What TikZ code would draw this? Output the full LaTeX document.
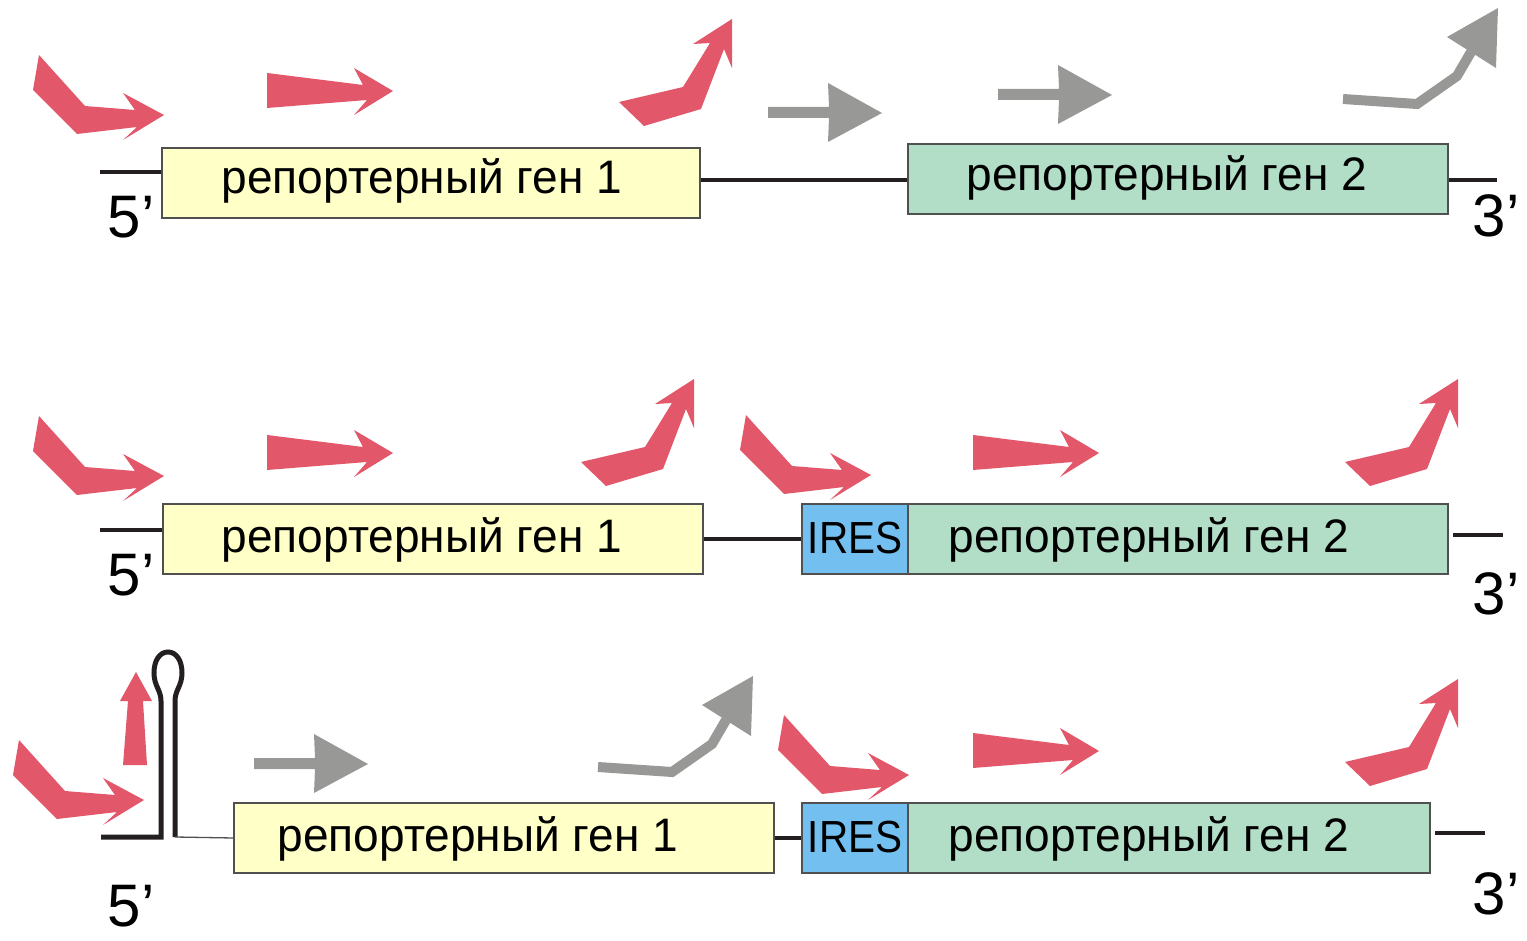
\documentclass[tikz,border=0pt]{standalone}
\usepackage{fontspec}
\setmainfont{Liberation Sans}
\definecolor{pinkred}{RGB}{227,87,107}
\definecolor{arrgray}{RGB}{152,152,150}
\definecolor{yel}{RGB}{255,255,200}
\definecolor{grn}{RGB}{178,222,200}
\definecolor{iresc}{RGB}{115,192,240}
\definecolor{dna}{RGB}{35,31,32}
\definecolor{boxedge}{RGB}{80,80,80}
\tikzset{
  genebox/.style={draw=boxedge, line width=1.3, inner sep=0, minimum height=70},
  genetext/.style={font=\fontsize{47}{50}\selectfont, inner sep=0, xscale=0.98, anchor=base},
  irestext/.style={font=\fontsize{45}{50}\selectfont, inner sep=0, xscale=0.9},
  endlbl/.style={font=\fontsize{60}{66}\selectfont, inner sep=0},
  strand/.style={draw=dna, line width=4},
  redarr/.style={fill=pinkred},
  grayarr/.style={fill=arrgray},
}
\newcommand\redbent[1]{\fill[redarr,shift={#1}] (39,55) -- (33,90) -- (77,134) -- (137,127) -- (123,140) -- (164,115) -- (123,93) -- (135,110) -- (85,106) -- cycle;}
\newcommand\redstraight[1]{\fill[redarr,shift={#1}] (267,73) -- (267,108) -- (367,100) -- (354,115) -- (393,91) -- (354,68) -- (363,85) -- cycle;}
\newcommand\redup[1]{\fill[redarr,shift={#1}] (619,102) -- (644,126) -- (701,109) -- (724,49) -- (732,68) -- (732,19) -- (693,44) -- (710,43) -- (683,87) -- cycle;}
\newcommand\graystraight[1]{\fill[grayarr,shift={#1}] (768,107) -- (829,107) -- (828,83) -- (882,113) -- (828,142) -- (829,118) -- (768,118) -- cycle;}
\newcommand\graybent[1]{\begin{scope}[shift={#1}]
  \draw[arrgray, line width=10, line join=miter] (1343,99) -- (1417,104) -- (1457,76) -- (1471,52);
  \fill[grayarr] (1498,8) -- (1447,37) -- (1496,68) -- cycle;
\end{scope}}
\begin{document}
\begin{tikzpicture}[x=1pt,y=-1pt]
\useasboundingbox (0,0) rectangle (1527,941);

% ---------- Row 1 ----------
\node[genebox, fill=yel, minimum width=538] (b11) at (431,183) {};
\node[genebox, fill=grn, minimum width=540] (b12) at (1178,179) {};
\node[genetext] (t11) at (422,194) {репортерный ген 1};
\node[genetext] (t12) at (1167,191) {репортерный ген 2};
\coordinate (l1a) at (100,172);
\coordinate (r1a) at (1497,180);
\draw[strand] (l1a) -- (l1a -| b11.west);
\draw[strand] (b11.east |- r1a) -- (b12.west |- r1a);
\draw[strand] (b12.east |- r1a) -- (r1a);
\node[endlbl] (p51) at (131,217) {5’};
\node[endlbl] (p31) at (1496,216) {3’};
\redbent{(0,0)}
\redstraight{(0,0)}
\redup{(0,0)}
\graystraight{(0,0)}
\graystraight{(230,-18)}
\graybent{(0,0)}

% ---------- Row 2 ----------
\node[genebox, fill=yel, minimum width=540] (b21) at (433,539) {};
\node[genebox, fill=iresc, minimum width=106] (i2) at (855,539) {};
\node[genebox, fill=grn, minimum width=540] (b22) at (1178,539) {};
\node[irestext] (ti2) at (855,538) {IRES};
\node[genetext] (t21) at (422,552) {репортерный ген 1};
\node[genetext] (t22) at (1149,552) {репортерный ген 2};
\coordinate (l2a) at (100,530);
\coordinate (r2a) at (1453,535);
\coordinate (r2b) at (1503,535);
\draw[strand] (l2a) -- (l2a -| b21.west);
\draw[strand] (b21.east) -- (i2.west);
\draw[strand] (r2a) -- (r2b);
\node[endlbl] (p52) at (131,575) {5’};
\node[endlbl] (p32) at (1496,594) {3’};
\redbent{(0,361)}
\redstraight{(0,362)}
\redup{(-38,360)}
\redbent{(707,360)}
\redstraight{(706,362)}
\redup{(726,360)}

% ---------- Row 3 ----------
\node[genebox, fill=yel, minimum width=540] (b31) at (504,838) {};
\node[genebox, fill=iresc, minimum width=106] (i3) at (855,838) {};
\node[genebox, fill=grn, minimum width=522] (b32) at (1169,838) {};
\node[irestext] (ti3) at (855,837) {IRES};
\node[genetext] (t31) at (478,851) {репортерный ген 1};
\node[genetext] (t32) at (1149,851) {репортерный ген 2};
\coordinate (l3a) at (101,837);
\coordinate (hpL) at (161,837);
\coordinate (hpR) at (175,837);
\coordinate (r3a) at (1435,833);
\coordinate (r3b) at (1485,833);
\draw[draw=dna, line width=5, line join=miter] (l3a) -- (hpL) -- (161,701)
   .. controls (161,690) and (154,686) .. (154,673)
   .. controls (154,660) and (160,652) .. (168,652)
   .. controls (176,652) and (182,660) .. (182,673)
   .. controls (182,686) and (175,690) .. (175,701) -- (hpR);
\draw[draw=boxedge, line width=1.3] (hpR) -- (b31.west);
\draw[strand] (b31.east) -- (i3.west);
\draw[strand] (r3a) -- (r3b);
\node[endlbl] (p53) at (131,906) {5’};
\node[endlbl] (p33) at (1496,894) {3’};
\fill[redarr] (123,765) -- (128,701) -- (120,701) -- (136,672) -- (152,701) -- (143,701) -- (147,765) -- cycle;
\redbent{(-20,685)}
\graystraight{(-514,651)}
\graybent{(-745,668)}
\redbent{(745,660)}
\redstraight{(706,660)}
\redup{(726,660)}
\end{tikzpicture}
\end{document}
